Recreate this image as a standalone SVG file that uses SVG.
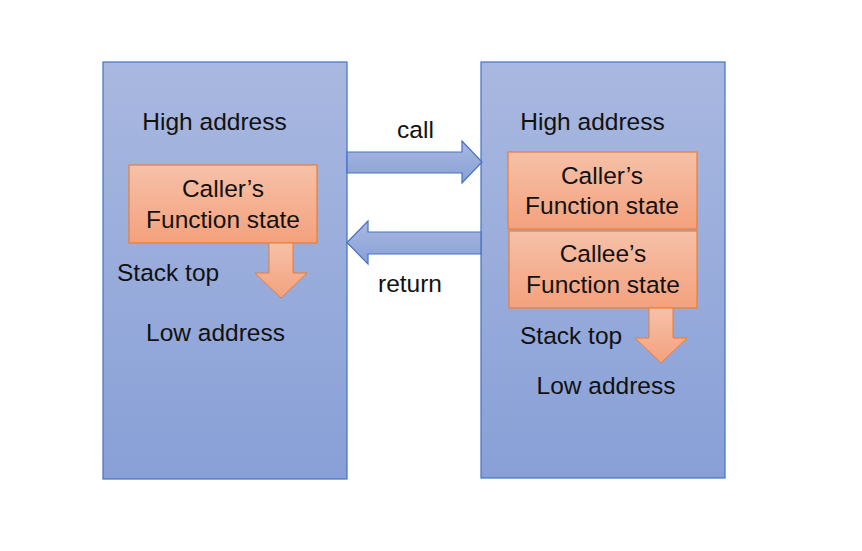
<svg xmlns="http://www.w3.org/2000/svg" width="862" height="551" viewBox="0 0 862 551">
<defs>
<linearGradient id="gBlue" x1="0" y1="0" x2="0" y2="1">
<stop offset="0" stop-color="#a9b8e0"/>
<stop offset="1" stop-color="#88a0d7"/>
</linearGradient>
<linearGradient id="gOrange" x1="0" y1="0" x2="0" y2="1">
<stop offset="0" stop-color="#f6c1a8"/>
<stop offset="1" stop-color="#f4a17d"/>
</linearGradient>
<style>
.stack{fill:url(#gBlue);stroke:#4472c4;stroke-width:1.2}
.frame{fill:url(#gOrange);stroke:#ed7d31;stroke-width:1.2}
.conn{fill:url(#gBlue);stroke:#4472c4;stroke-width:1.2}
.down{fill:url(#gOrange);stroke:#ed7d31;stroke-width:1}
text{font-family:"Liberation Sans",Arial,sans-serif;font-size:24.5px;fill:#111}
.c{text-anchor:middle}
</style>
</defs>
<rect width="862" height="551" fill="#ffffff"/>
<g id="caller-stack">
<rect class="stack" x="103" y="62" width="244" height="417"/>
<text class="c" x="214.5" y="130">High address</text>
<text x="117" y="281">Stack top</text>
<text class="c" x="215.5" y="341">Low address</text>
</g>
<g id="caller-frame-left">
<rect class="frame" x="129" y="165" width="188" height="78"/>
<text class="c" x="223" y="197">Caller’s</text>
<text class="c" x="223" y="228">Function state</text>
</g>
<g id="stack-top-arrow-left">
<path class="down" d="M269,243 H293 V273 H307 L281,298 L255,273 H269 Z"/>
</g>
<g id="callee-stack">
<rect class="stack" x="481" y="62" width="244" height="416"/>
<text class="c" x="592.5" y="130">High address</text>
<text x="520" y="344">Stack top</text>
<text class="c" x="606" y="394">Low address</text>
</g>
<g id="caller-frame-right">
<rect class="frame" x="508" y="152" width="189" height="77"/>
<text class="c" x="602" y="184">Caller’s</text>
<text class="c" x="602" y="214">Function state</text>
</g>
<g id="callee-frame">
<rect class="frame" x="509" y="231" width="188" height="77"/>
<text class="c" x="603" y="262">Callee’s</text>
<text class="c" x="603" y="293">Function state</text>
</g>
<g id="stack-top-arrow-right">
<path class="down" d="M649,308 H673 V338 H687 L661,363 L635,338 H649 Z"/>
</g>
<g id="connectors">
<path class="conn" d="M347,152 H462 V141 L482,162 L462,183 V173 H347 Z"/>
<text class="c" x="415.5" y="138">call</text>
<path class="conn" d="M481,232 H368 V221 L347,242.5 L368,264 V254 H481 Z"/>
<text class="c" x="410" y="292">return</text>
</g>
</svg>
